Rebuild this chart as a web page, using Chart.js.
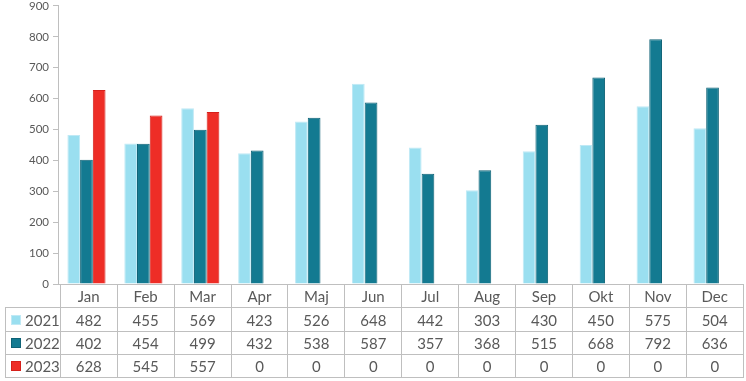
<!DOCTYPE html>
<html>
<head>
<meta charset="utf-8">
<script src="https://cdn.jsdelivr.net/npm/chart.js@4"></script>
<style>
  html, body { margin: 0; padding: 0; background: #fff; overflow: hidden; }
  #wrap { position: relative; width: 746px; height: 381px; overflow: hidden; }
  #chart { position: absolute; left: 0; top: -5px; }
  #dataTable {
    position: absolute;
    border-collapse: collapse;
    font-family: Lato, "Open Sans", sans-serif;
    font-size: 15px;
    color: #595959;
    table-layout: fixed;
  }
  #dataTable td {
    border: 1px solid #bfbfbf;
    text-align: center;
    padding: 0;
    white-space: nowrap;
  }
  #dataTable td.blank { border-top: none; border-left: none; }
  #dataTable td.legend { text-align: left; padding-left: 5px; }
  .swatch {
    display: inline-block;
    width: 8px; height: 8px;
    margin-right: 4px;
    vertical-align: 1px;
    border: 1px solid;
  }
</style>
</head>
<body>
<div id="wrap">
  <canvas id="chart" width="746" height="386"></canvas>
  <table id="dataTable"></table>
</div>
<script>
// Data
const months = ['Jan', 'Feb', 'Mar', 'Apr', 'Maj', 'Jun', 'Jul', 'Aug', 'Sep', 'Okt', 'Nov', 'Dec'];
const years = ['2021', '2022', '2023'];
const values2021 = [482, 455, 569, 423, 526, 648, 442, 303, 430, 450, 575, 504];
const values2022 = [402, 454, 499, 432, 538, 587, 357, 368, 515, 668, 792, 636];
const values2023 = [628, 545, 557, 0, 0, 0, 0, 0, 0, 0, 0, 0];
const yTicks = [0, 100, 200, 300, 400, 500, 600, 700, 800, 900];

const fills = ['#9adff0', '#137a91', '#ee2d26'];
const borders = ['#bfe9f5', '#0e6276', '#d6201b'];
const series = [values2021, values2022, values2023];
const rowHeights = [23, 24, 23, 23];
const canvasShift = 5;

const ctx = document.getElementById('chart');

const chart = new Chart(ctx, {
    type: 'bar',
    data: {
        labels: months,
        datasets: years.map((y, i) => ({
            label: y,
            data: series[i],
            backgroundColor: fills[i],
            borderColor: borders[i],
            borderWidth: 1,
            categoryPercentage: 0.67,
            barPercentage: 1.0
        }))
    },
    options: {
        responsive: false,
        animation: false,
        layout: {
            padding: { top: 0, right: 5, bottom: 89, left: 0 }
        },
        plugins: {
            legend: { display: false },
            tooltip: { enabled: false }
        },
        scales: {
            x: {
                ticks: { display: false },
                grid: { display: false },
                border: { color: '#bfbfbf', width: 1 }
            },
            y: {
                min: 0,
                max: yTicks[yTicks.length - 1],
                afterBuildTicks: function(axis) {
                    axis.ticks = yTicks.map(v => ({ value: v }));
                },
                afterFit: function(axis) {
                    axis.width = 58;
                },
                ticks: {
                    color: '#595959',
                    padding: 4,
                    font: { family: 'Lato', size: 11.5 }
                },
                grid: {
                    drawOnChartArea: false,
                    drawTicks: true,
                    tickLength: 5,
                    color: '#bfbfbf'
                },
                border: { color: '#bfbfbf', width: 1 }
            }
        }
    }
});

// Build the data table under the plot, aligned with the x scale
function buildTable() {
    const area = chart.chartArea;
    const colW = (area.right - area.left) / months.length;
    const firstW = area.left - 5;
    const table = document.getElementById('dataTable');
    table.style.left = '5px';
    table.style.top = Math.round(area.bottom - canvasShift) + 'px';

    let html = '<colgroup><col style="width:' + firstW + 'px">';
    months.forEach(() => { html += '<col style="width:' + colW + 'px">'; });
    html += '</colgroup>';

    html += '<tr style="height:' + rowHeights[0] + 'px"><td class="blank"></td>';
    months.forEach(m => { html += '<td>' + m + '</td>'; });
    html += '</tr>';

    years.forEach((y, i) => {
        html += '<tr style="height:' + rowHeights[i + 1] + 'px"><td class="legend"><span class="swatch" style="background:' +
            fills[i] + ';border-color:' + borders[i] + '"></span>' + y + '</td>';
        series[i].forEach(v => { html += '<td>' + v + '</td>'; });
        html += '</tr>';
    });
    table.innerHTML = html;
}

buildTable();
</script>
</body>
</html>
